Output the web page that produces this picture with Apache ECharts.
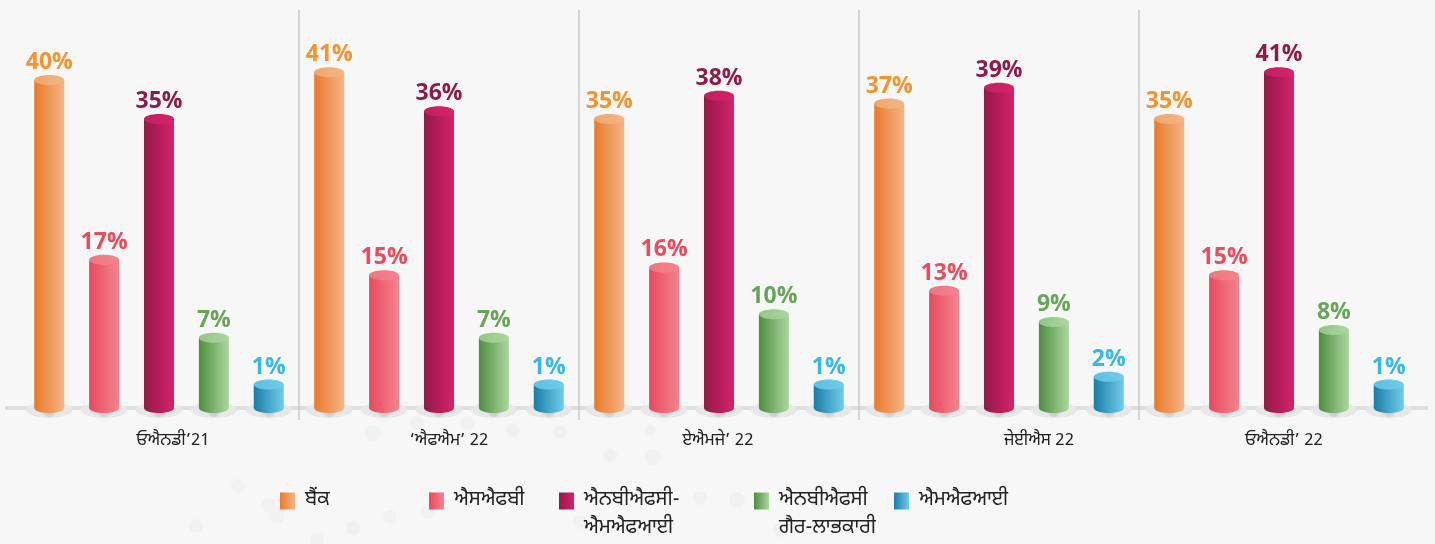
<!DOCTYPE html>
<html>
<head>
<meta charset="utf-8">
<script src="https://cdn.jsdelivr.net/npm/echarts@6/dist/echarts.min.js"></script>
<style>
  html, body { margin: 0; padding: 0; background: #f7f7f7; }
  #chart { width: 1435px; height: 544px; }
</style>
</head>
<body>
<div id="chart"></div>
<script>
var categories = ['ਓਐਨਡੀ’21', '‘ਐਫਐਮ’ 22', 'ਏਐਮਜੇ’ 22', 'ਜੇਈਐਸ 22', 'ਓਐਨਡੀ’ 22'];
var seriesNames = ['ਬੈਂਕ', 'ਐਸਐਫਬੀ', 'ਐਨਬੀਐਫਸੀ-ਐਮਐਫਆਈ', 'ਐਨਬੀਐਫਸੀ ਗੈਰ-ਲਾਭਕਾਰੀ', 'ਐਮਐਫਆਈ'];
var legendLines = [['ਬੈਂਕ'], ['ਐਸਐਫਬੀ'], ['ਐਨਬੀਐਫਸੀ-', 'ਐਮਐਫਆਈ'], ['ਐਨਬੀਐਫਸੀ', 'ਗੈਰ-ਲਾਭਕਾਰੀ'], ['ਐਮਐਫਆਈ']];
var bankValues = [40, 41, 35, 37, 35];
var sfbValues = [17, 15, 16, 13, 15];
var nbfcMfiValues = [35, 36, 38, 39, 41];
var nbfcNonProfitValues = [7, 7, 10, 9, 8];
var mfiValues = [1, 1, 1, 2, 1];
var allValues = [bankValues, sfbValues, nbfcMfiValues, nbfcNonProfitValues, mfiValues];

var Y_MIN = -2;
// body gradient (dark -> light), cap colour, label colour
var palette = [
  { dark: '#e97a2c', light: '#f4b685', cap: '#f0a66a', label: '#f7922d' },
  { dark: '#e64a5e', light: '#f4848f', cap: '#f07482', label: '#ec4a5d' },
  { dark: '#921947', light: '#d7226b', cap: '#c21f5f', label: '#8e1c47' },
  { dark: '#4f8e40', light: '#add6a0', cap: '#93c585', label: '#6aa45a' },
  { dark: '#1a7ea8', light: '#72cbea', cap: '#5fbfe3', label: '#38b8ea' }
];
var labelFont = '"Open Sans", "Noto Sans", sans-serif';
var textFont = '"Noto Sans Gurmukhi", "Noto Sans", "DejaVu Sans", sans-serif';
// the category labels in the picture are not quite centred on their groups
var labelShift = [14, 10, -1, 40, 5];

function hGrad(c1, c2) {
  return new echarts.graphic.LinearGradient(0, 0, 1, 0, [
    { offset: 0, color: c1 }, { offset: 1, color: c2 }
  ]);
}

function renderCylinder(params, api) {
  var si = params.seriesIndex;
  var cat = api.value(0), val = api.value(1);
  var base = api.coord([cat, Y_MIN]);
  var top = api.coord([cat, val]);
  var band = api.size([1, 0])[0];
  var cx = base[0] + (si - 2) * band * 0.196;
  var w = 30, ry = 5;
  var p = palette[si];
  return {
    type: 'group',
    children: [
      {
        type: 'ellipse',
        shape: { cx: cx, cy: base[1] + 2, rx: 23, ry: 8 },
        style: {
          fill: new echarts.graphic.RadialGradient(0.5, 0.5, 0.5, [
            { offset: 0, color: '#bdbdbd' },
            { offset: 0.7, color: '#d2d2d2' },
            { offset: 1, color: '#e8e8e8' }
          ])
        }
      },
      {
        type: 'ellipse',
        shape: { cx: cx, cy: base[1], rx: w / 2, ry: ry },
        style: { fill: hGrad(p.dark, p.light) }
      },
      {
        type: 'rect',
        shape: { x: cx - w / 2, y: top[1], width: w, height: base[1] - top[1] },
        style: { fill: hGrad(p.dark, p.light) }
      },
      {
        type: 'ellipse',
        shape: { cx: cx, cy: top[1], rx: w / 2, ry: ry },
        style: { fill: hGrad(p.cap, p.light) }
      },
      {
        type: 'text',
        style: {
          text: val + '%',
          x: cx,
          y: top[1] - ry - 1,
          align: 'center',
          verticalAlign: 'bottom',
          font: 'bold 23px ' + labelFont,
          fill: p.label
        }
      }
    ]
  };
}

var chart = echarts.init(document.getElementById('chart'));

var series = seriesNames.map(function (name, i) {
  return {
    name: name,
    type: 'custom',
    renderItem: renderCylinder,
    itemStyle: { color: hGrad(palette[i].dark, palette[i].light) },
    encode: { x: 0, y: 1 },
    data: allValues[i].map(function (v, c) { return [c, v]; }),
    z: 3
  };
});

var legendLeft = [280, 429, 559, 754, 894];
var legends = seriesNames.map(function (name, i) {
  var lines = legendLines[i];
  // a blank first line keeps the icon level with the first text line
  var text = lines.length > 1 ? ' \n' + lines.join('\n') : lines[0];
  return {
    data: [name],
    left: legendLeft[i],
    top: lines.length > 1 ? 459 : 487,
    orient: 'horizontal',
    itemWidth: 15,
    itemHeight: 17,
    itemGap: 0,
    icon: 'rect',
    padding: 0,
    selectedMode: false,
    formatter: function () { return text; },
    textStyle: {
      fontFamily: textFont,
      fontSize: 20,
      color: '#222',
      lineHeight: 28,
      padding: [0, 0, 0, 5]
    }
  };
});

var labelRich = {};
labelShift.forEach(function (s, i) {
  labelRich['c' + i] = {
    fontFamily: textFont,
    fontSize: 17,
    color: '#222',
    padding: s >= 0 ? [0, 0, 0, 2 * s] : [0, -2 * s, 0, 0]
  };
});

// faint decorative dots in the background
var dots = [
  [277, 515, 8], [353, 528, 7], [390, 517, 7], [317, 540, 7], [428, 512, 7],
  [238, 486, 7], [268, 505, 7], [196, 526, 7], [373, 433, 8], [417, 423, 7],
  [467, 423, 7], [513, 430, 7], [653, 457, 8], [737, 500, 8], [580, 522, 7],
  [780, 530, 7], [610, 455, 7], [560, 432, 7], [650, 430, 6], [700, 498, 7]
];

chart.setOption({
  backgroundColor: '#f7f7f7',
  animation: false,
  grid: { left: 19, right: 16, top: 41, bottom: 136 },
  xAxis: {
    type: 'category',
    data: categories,
    axisLine: { show: false },
    axisTick: { show: false },
    axisLabel: {
      margin: 25,
      formatter: function (v, idx) { return '{c' + idx + '|' + v + '}'; },
      rich: labelRich
    }
  },
  yAxis: {
    type: 'value',
    min: Y_MIN,
    max: 45,
    show: false,
    splitLine: { show: false }
  },
  legend: legends,
  series: series
});

// baseline band and group separators, placed from the axis scale
var baseY = chart.convertToPixel({ yAxisIndex: 0 }, Y_MIN);
var gfx = dots.map(function (d) {
  return {
    type: 'circle',
    shape: { cx: d[0], cy: d[1], r: d[2] },
    style: { fill: '#f1f1f1' },
    z: -1,
    silent: true
  };
});
gfx.push({
  type: 'rect',
  shape: { x: 5, y: baseY - 2, width: 1423, height: 4 },
  style: { fill: '#e0e0e0' },
  z: 1
});
for (var i = 0; i < categories.length - 1; i++) {
  var x = (chart.convertToPixel({ xAxisIndex: 0 }, i) + chart.convertToPixel({ xAxisIndex: 0 }, i + 1)) / 2;
  gfx.push({
    type: 'line',
    shape: { x1: x, y1: 10, x2: x, y2: baseY + 12 },
    style: { stroke: '#b4b4b4', lineWidth: 1 },
    z: 1
  });
}
chart.setOption({ graphic: gfx });
</script>
</body>
</html>
